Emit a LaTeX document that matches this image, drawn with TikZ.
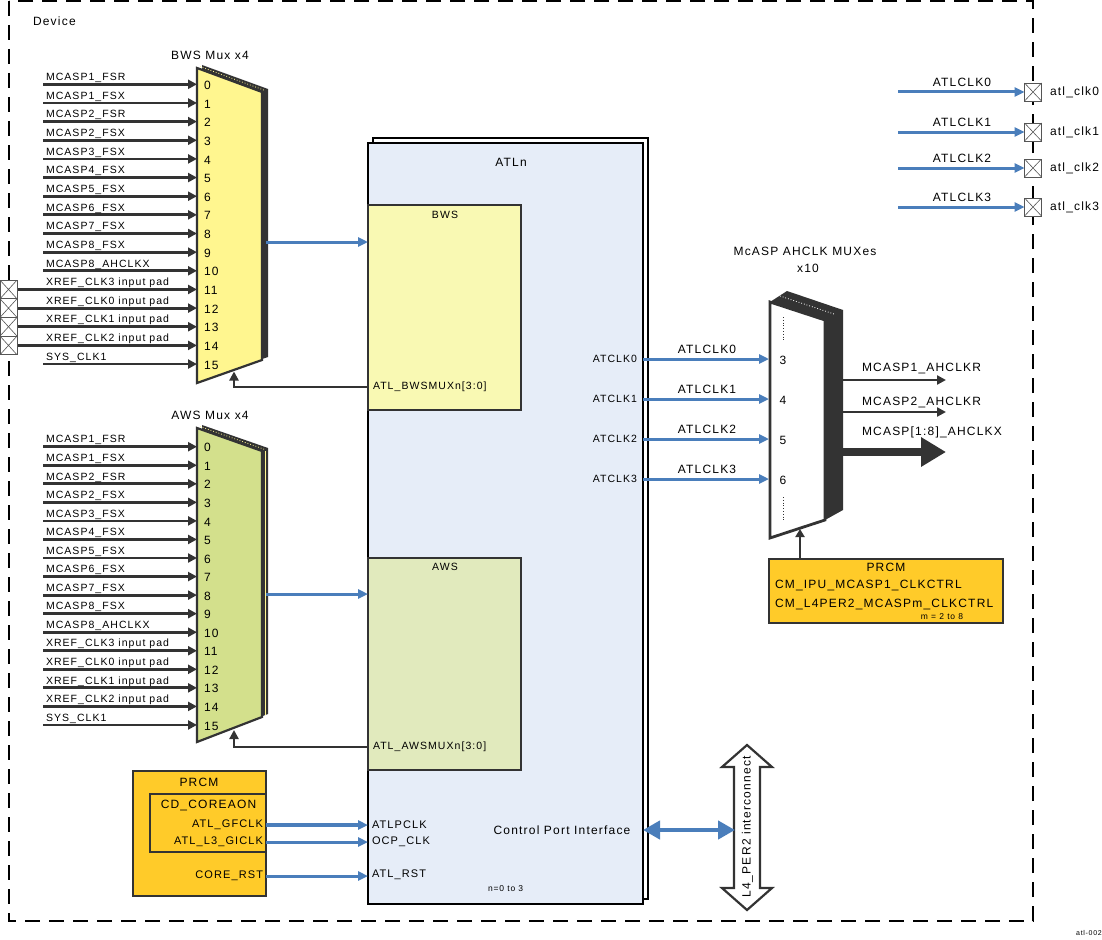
\documentclass[tikz,border=0pt]{standalone}
\usepackage{fontspec}
\setmainfont{Liberation Sans}
\newfontfamily\lsf{Liberation Sans}[LetterSpace=10]
\usetikzlibrary{arrows.meta}
\definecolor{dk}{HTML}{333333}
\definecolor{bl}{HTML}{4A7EBB}
\definecolor{muxy}{HTML}{FFF68F}
\definecolor{bwsf}{HTML}{F9F9B3}
\definecolor{muxg}{HTML}{D3E08C}
\definecolor{awsf}{HTML}{E1EABD}
\definecolor{atlf}{HTML}{E6EDF8}
\definecolor{prcmf}{HTML}{FFCB29}
\definecolor{padc}{HTML}{555555}
\newcommand\myfs[1]{\lsf\fontsize{#1}{#1}\selectfont}
\tikzset{
  t7/.style={inner sep=0pt, outer sep=0pt, font=\myfs{7}},
  t8/.style={inner sep=0pt, outer sep=0pt, font=\myfs{8.5}},
  t10/.style={inner sep=0pt, outer sep=0pt, font=\myfs{10.5}},
  t11/.style={inner sep=0pt, outer sep=0pt, font=\myfs{11}},
  t12/.style={inner sep=0pt, outer sep=0pt, font=\myfs{12}},
  inarr/.style={draw=dk, line width=2.8pt, -{Triangle[length=9pt,width=9pt]}},
  blarr/.style={draw=bl, line width=3pt, -{Triangle[length=10pt,width=9pt]}},
  box/.style={draw=dk, line width=2.5pt, inner sep=0pt, outer sep=0pt, anchor=north west},
  pad/.style={draw=padc, fill=white, line width=0.8pt, minimum width=17pt, minimum height=18pt, inner sep=0pt, outer sep=0pt,
    path picture={\draw[padc, line width=0.6pt] (path picture bounding box.north west) -- (path picture bounding box.south east) (path picture bounding box.south west) -- (path picture bounding box.north east);}},
  devborder/.style={draw=black, line width=2.4pt, dash pattern=on 15pt off 9pt},
}
\begin{document}
\begin{tikzpicture}[x=1pt,y=-1pt]
\useasboundingbox (0,0) rectangle (1102,939);
% device border
\draw[devborder] (9,1) rectangle (1033,921);
\node[t12, anchor=west] (dev) at (33,21) {Device};

% ================= BWS mux =================
\fill[dk] (202,65) -- (268,89) -- (268,357) -- (202,380) -- cycle;
\filldraw[fill=muxy, draw=dk, line width=2.2pt, line join=miter] (197,68) -- (262,92) -- (262,360) -- (197,383) -- cycle;
\draw[muxy, line width=0.8pt, dotted] (200,66.5) -- (265,90.5);
\node[t12] (bwsml) at (210,55) {BWS Mux x4};
\foreach \i/\lab in {0/MCASP1\_FSR,1/MCASP1\_FSX,2/MCASP2\_FSR,3/MCASP2\_FSX,4/MCASP3\_FSX,5/MCASP4\_FSX,6/MCASP5\_FSX,7/MCASP6\_FSX,8/MCASP7\_FSX,9/MCASP8\_FSX,10/MCASP8\_AHCLKX,11/XREF\_CLK3 input pad,12/XREF\_CLK0 input pad,13/XREF\_CLK1 input pad,14/XREF\_CLK2 input pad,15/SYS\_CLK1}{
  \pgfmathsetmacro\yy{84.3+18.65*\i}
  \ifnum\i>10 \ifnum\i<15 \def\xs{17}\else\def\xs{43}\fi\else\def\xs{43}\fi
  \coordinate (bs\i) at (\xs,\yy);
  \coordinate (bi\i) at (197,\yy);
  \draw[inarr] (bs\i) -- (bi\i);
  \node[t10, anchor=base west] (bl\i) at (46,\yy-3.8) {\lab};
  \node[t12, anchor=west] (bn\i) at (204,\yy+1) {\i};
}
\foreach \i in {11,12,13,14}{
  \pgfmathsetmacro\yy{84.3+18.65*\i}
  \node[pad, minimum height=18.65pt] (lp\i) at (8.5,\yy) {};
}

% ================= AWS mux =================
\fill[dk] (202,425) -- (268,448) -- (268,714) -- (202,739) -- cycle;
\filldraw[fill=muxg, draw=dk, line width=2.2pt, line join=miter] (197,428) -- (262,451) -- (262,717) -- (197,742) -- cycle;
\draw[muxy, line width=0.8pt] (265,451) -- (265,715);
\draw[muxy, line width=0.8pt, dotted] (200,426.5) -- (265,449.5);
\node[t12] (awsml) at (210,415) {AWS Mux x4};
\foreach \i/\lab in {0/MCASP1\_FSR,1/MCASP1\_FSX,2/MCASP2\_FSR,3/MCASP2\_FSX,4/MCASP3\_FSX,5/MCASP4\_FSX,6/MCASP5\_FSX,7/MCASP6\_FSX,8/MCASP7\_FSX,9/MCASP8\_FSX,10/MCASP8\_AHCLKX,11/XREF\_CLK3 input pad,12/XREF\_CLK0 input pad,13/XREF\_CLK1 input pad,14/XREF\_CLK2 input pad,15/SYS\_CLK1}{
  \pgfmathsetmacro\yy{446.7+18.55*\i}
  \coordinate (as\i) at (43,\yy);
  \coordinate (ai\i) at (197,\yy);
  \draw[inarr] (as\i) -- (ai\i);
  \node[t10, anchor=base west] (al\i) at (46,\yy-3.8) {\lab};
  \node[t12, anchor=west] (an\i) at (204,\yy+1) {\i};
}

% ================= ATLn =================
\node[box, draw=black, fill=white, line width=2pt, minimum width=275pt, minimum height=761pt] (atlb) at (373,138) {};
\node[box, draw=black, fill=atlf, line width=2.5pt, minimum width=275pt, minimum height=761pt] (atl) at (368,143) {};
\node[t12] (atlt) at (511,162) {ATLn};
\node[box, fill=bwsf, minimum width=153pt, minimum height=205pt] (bws) at (368,205) {};
\node[t10] (bwst) at (445,215) {BWS};
\node[box, fill=awsf, minimum width=153pt, minimum height=212pt] (aws) at (368,558) {};
\node[t10] (awst) at (445,567) {AWS};
\node[t10, anchor=west] (bsmx) at (373,387) {ATL\_BWSMUXn[3:0]};
\node[t10, anchor=west] (asmx) at (373,747) {ATL\_AWSMUXn[3:0]};

% mux -> boxes
\coordinate (bwsout) at (266,242);
\draw[blarr] (bwsout) -- (bwsout -| bws.west);
\coordinate (awsout) at (266,594);
\draw[blarr] (awsout) -- (awsout -| aws.west);
% select lines
\coordinate (bsel) at (234,371.5);
\draw[dk, line width=2.5pt, -{Triangle[length=9pt,width=9pt]}] (bsmx.west -| bws.west) -| (bsel);
\coordinate (asel) at (234,730);
\draw[dk, line width=2.5pt, -{Triangle[length=9pt,width=9pt]}] (asmx.west -| aws.west) -| (asel);

% ================= McASP mux =================
\fill[dk] (770,302) -- (787,291) -- (843,310) -- (843,510) -- (825,520) -- (770,538) -- cycle;
\filldraw[fill=white, draw=dk, line width=2.8pt, line join=miter] (770,302) -- (825,320) -- (825,520) -- (770,538) -- cycle;
\draw[white, dotted, line width=0.8pt] (780,296) -- (834,314);
\draw[dk, dotted, line width=0.8pt] (783,317) -- (783,340);
\draw[dk, dotted, line width=0.8pt] (783,497) -- (783,520);
\node[t12] (mcl1) at (805,251) {McASP AHCLK MUXes};
\node[t12] (mcl2) at (808,268) {x10};
\foreach \i/\d/\yy in {0/3/359,1/4/399,2/5/439,3/6/479}{
  \node[t10, anchor=east] (ac\i) at (637,\yy) {ATCLK\i};
  \coordinate (mx\i) at (769,\yy);
  \draw[blarr] (ac\i -| atl.east) -- (mx\i);
  \node[t12] (acl\i) at (707,\yy-10) {ATLCLK\i};
  \node[t12] (md\i) at (783,\yy+1) {\d};
}
% outputs
\coordinate (o1) at (843,380); \coordinate (o1e) at (946,380);
\draw[dk, line width=2.5pt, -{Triangle[length=9pt,width=9pt]}] (o1) -- (o1e);
\node[t12, anchor=base west] (o1l) at (862,371) {MCASP1\_AHCLKR};
\coordinate (o2) at (843,412); \coordinate (o2e) at (946,412);
\draw[dk, line width=2.5pt, -{Triangle[length=9pt,width=9pt]}] (o2) -- (o2e);
\node[t12, anchor=base west] (o2l) at (862,405) {MCASP2\_AHCLKR};
\coordinate (o3) at (835,452); \coordinate (o3e) at (946,452);
\draw[dk, line width=7.5pt, -{Triangle[length=25pt,width=28pt]}] (o3) -- (o3e);
\node[t12, anchor=base west] (o3l) at (862,435) {MCASP[1:8]\_AHCLKX};

% PRCM right
\node[box, fill=prcmf, minimum width=234pt, minimum height=64pt] (prcm2) at (769,559) {};
\node[t12] (pr2t) at (886,567) {PRCM};
\node[t12, anchor=base west] (pr2a) at (775,588) {CM\_IPU\_MCASP1\_CLKCTRL};
\node[t12, anchor=base west] (pr2b) at (775,607) {CM\_L4PER2\_MCASPm\_CLKCTRL};
\node[t8] (pr2c) at (942,617) {m = 2 to 8};
\coordinate (psel) at (800,529);
\draw[dk, line width=2.2pt, -{Triangle[length=8pt,width=9pt]}] (psel |- prcm2.north) -- (psel);

% ================= atl_clk pads =================
\foreach \i/\yy in {0/92,1/132,2/168,3/207}{
  \node[pad] (p\i) at (1033,\yy) {};
  \node[t12, anchor=west] (pl\i) at (1050,\yy) {atl\_clk\i};
  \coordinate (ps\i) at (898,\yy);
  \draw[blarr] (ps\i) -- (p\i.west);
  \node[t12] (pal\i) at (962,\yy-10) {ATLCLK\i};
}

% ================= PRCM left =================
\node[box, fill=prcmf, minimum width=133pt, minimum height=125pt] (prcm1) at (133,771) {};
\node[box, fill=prcmf, minimum width=116pt, minimum height=58pt] (cd) at (150,794) {};
\node[t12] (pr1t) at (199,782) {PRCM};
\node[t12] (cdt) at (208.5,805) {CD\_COREAON};
\node[t11, anchor=east] (gfl) at (263,825) {ATL\_GFCLK};
\node[t11, anchor=east] (gil) at (263,842) {ATL\_L3\_GICLK};
\node[t11, anchor=east] (rsl) at (263,876) {CORE\_RST};
\draw[blarr, line width=4pt] (gfl.east -| prcm1.east) -- (gfl.east -| atl.west);
\draw[blarr] (gil.east -| prcm1.east) -- (gil.east -| atl.west);
\draw[blarr] (rsl.east -| prcm1.east) -- (rsl.east -| atl.west);
\node[t11, anchor=west] (atpc) at (372,825) {ATLPCLK};
\node[t11, anchor=west] (ocp) at (372,842) {OCP\_CLK};
\node[t11, anchor=west] (atrs) at (372,875) {ATL\_RST};

% control port
\node[t12] (cpi) at (562,830) {Control Port Interface};
\node[t8, anchor=west] (nn) at (488,889) {n=0 to 3};
\filldraw[fill=white, draw=dk, line width=2.2pt, line join=miter] (747,745) -- (772,767) -- (760,767) -- (760,888) -- (772,888) -- (747,910) -- (722,888) -- (734,888) -- (734,767) -- (722,767) -- cycle;
\node[t12, rotate=90] (l4) at (747.5,827) {L4\_PER2 interconnect};
\coordinate (l4w) at (735,830);
\draw[bl, line width=4.5pt, {Triangle[length=17pt,width=18pt]}-{Triangle[length=17pt,width=18pt]}] (cpi -| atl.east) -- (l4w);

\node[t7] (fig) at (1089,933) {atl-002};
\end{tikzpicture}
\end{document}
